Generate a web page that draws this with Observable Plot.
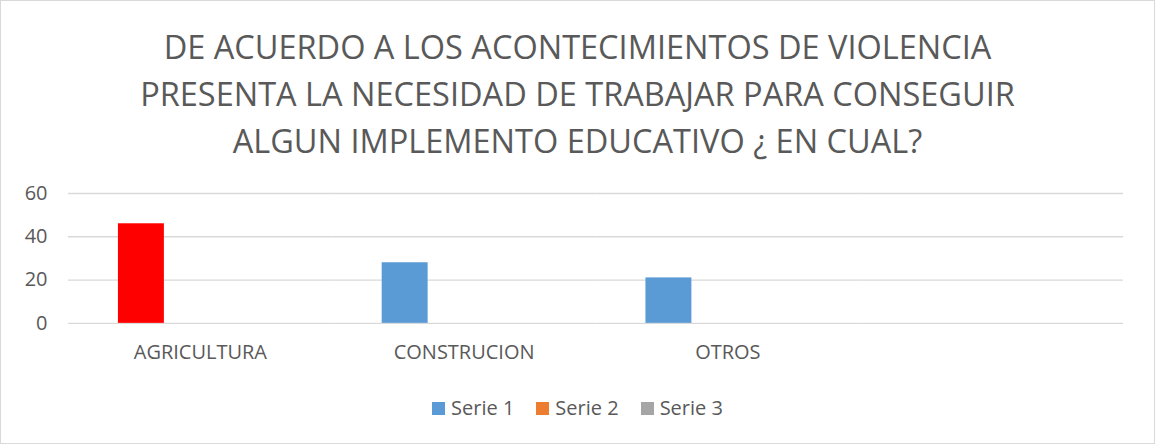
<!DOCTYPE html>
<html><head><meta charset="utf-8">
<script src="https://cdn.jsdelivr.net/npm/d3@7"></script>
<script src="https://cdn.jsdelivr.net/npm/@observablehq/plot@0.6"></script>
<style>
body{margin:0;background:#fff;}
#wrap{position:relative;width:1155px;height:444px;box-sizing:border-box;border:1px solid #d9d9d9;font-family:"Open Sans",sans-serif;color:#595959;overflow:hidden;background:#fff}
#title{position:absolute;top:22px;left:0;width:100%;text-align:center;font-size:32.5px;line-height:47px;white-space:nowrap}
#chart{position:absolute;top:169px;left:-1px}
#legend{position:absolute;top:393px;left:0;width:100%;display:flex;justify-content:center;font-size:20px;line-height:28px}
.item{display:flex;align-items:center;margin:0 11px}
.sw{width:13px;height:13px;margin-right:6px}
</style>
</head><body>
<div id="wrap">
  <div id="title">DE ACUERDO A LOS ACONTECIMIENTOS DE VIOLENCIA<br>PRESENTA LA NECESIDAD DE TRABAJAR PARA CONSEGUIR<br>ALGUN IMPLEMENTO EDUCATIVO ¿ EN CUAL?</div>
  <div id="chart"></div>
  <div id="legend"></div>
</div>
<script>
const categories = ["AGRICULTURA", "CONSTRUCION", "OTROS", ""];
const series = ["Serie 1", "Serie 2", "Serie 3"];
const serie1 = [46, 28, 21, null];
const serie2 = [null, null, null, null];
const serie3 = [null, null, null, null];
const seriesColors = ["#5b9bd5", "#ed7d31", "#a5a5a5"];
const serie1PointColors = ["#ff0000", "#5b9bd5", "#5b9bd5", "#5b9bd5"];
const yTicks = [0, 20, 40, 60];

const values = [serie1, serie2, serie3];
const rows = [];
categories.forEach((c, i) => {
  series.forEach((s, j) => {
    rows.push({
      category: c,
      series: s,
      value: values[j][i],
      color: j === 0 ? serie1PointColors[i] : seriesColors[j]
    });
  });
});

const chart = Plot.plot({
  width: 1155,
  height: 200,
  marginLeft: 67,
  marginRight: 31,
  marginTop: 23,
  marginBottom: 47,
  style: {fontFamily: "'Open Sans', sans-serif", color: "#595959", background: "transparent"},
  fx: {domain: categories, padding: 0, label: null},
  x: {domain: series, paddingInner: 0, paddingOuter: 1.32, align: 0.4, axis: null},
  y: {domain: [0, 60], label: null},
  color: {type: "identity"},
  marks: [
    Plot.ruleY(yTicks, {stroke: "#d9d9d9", strokeWidth: 1.3}),
    Plot.barY(rows, {fx: "category", x: "series", y: "value", fill: "color"}),
    Plot.axisY({ticks: yTicks, tickSize: 0, tickPadding: 21, fontSize: 20, fill: "#595959"}),
    Plot.axisFx({anchor: "bottom", tickSize: 0, tickPadding: 21, fontSize: 20, fill: "#595959"})
  ]
});
document.getElementById("chart").appendChild(chart);

const legend = document.getElementById("legend");
series.forEach((s, j) => {
  const it = document.createElement("div");
  it.className = "item";
  it.innerHTML = `<div class="sw" style="background:${seriesColors[j]}"></div><span>${s}</span>`;
  legend.appendChild(it);
});
</script>
</body></html>
